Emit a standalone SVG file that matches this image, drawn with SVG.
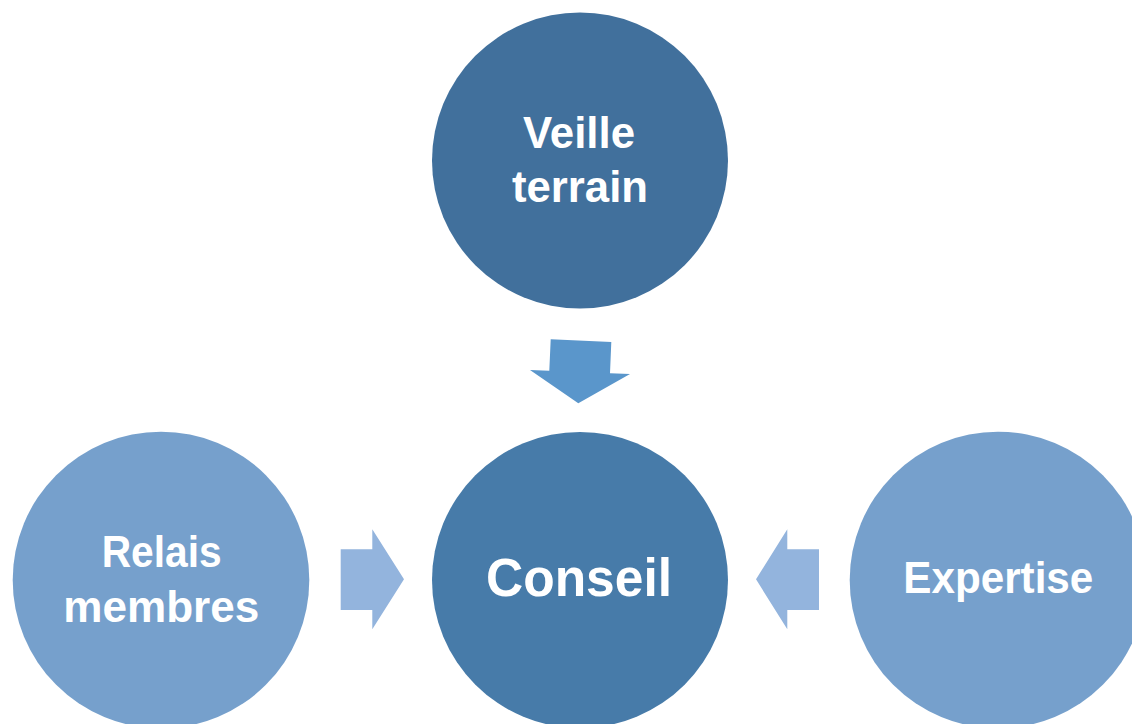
<svg xmlns="http://www.w3.org/2000/svg" width="1132" height="724" viewBox="0 0 1132 724">
<style>
  .lbl { font-family: "Liberation Sans", Arial, sans-serif; font-weight: bold; fill: #ffffff; text-anchor: middle; }
  .dark { fill: #41709c; }
  .mid { fill: #477ba9; }
  .light { fill: #76a0cc; }
  .arr-top { fill: #5a96cb; }
  .arr-side { fill: #93b4dd; }
</style>
<rect width="1132" height="724" fill="#ffffff"/>
<g id="connectors">
  <polygon class="arr-top" points="550.7,339.3 611.3,342 610,373.3 630,374 578.3,403.3 530,370 549.3,370.7"/>
  <polygon class="arr-side" points="340.7,549.3 372.3,549.3 372.3,529.3 404,579.3 372.3,629.3 372.3,610 340.7,610"/>
  <polygon class="arr-side" points="819,549.3 787.3,549.3 787.3,529.3 756,579.3 787.3,629.3 787.3,610 819,610"/>
</g>
<g id="veille">
  <circle class="dark" cx="580" cy="160.5" r="148"/>
  <text class="lbl" x="579" y="148" font-size="44" textLength="112" lengthAdjust="spacingAndGlyphs">Veille</text>
  <text class="lbl" x="580" y="202" font-size="44" textLength="136" lengthAdjust="spacingAndGlyphs">terrain</text>
</g>
<g id="conseil">
  <circle class="mid" cx="580" cy="580" r="148"/>
  <text class="lbl" x="579" y="596" font-size="54" textLength="186" lengthAdjust="spacingAndGlyphs">Conseil</text>
</g>
<g id="relais">
  <circle class="light" cx="161" cy="580" r="148.3"/>
  <text class="lbl" x="161.7" y="567" font-size="44" textLength="120" lengthAdjust="spacingAndGlyphs">Relais</text>
  <text class="lbl" x="161.3" y="622" font-size="44" textLength="196" lengthAdjust="spacingAndGlyphs">membres</text>
</g>
<g id="expertise">
  <circle class="light" cx="998" cy="580" r="148.3"/>
  <text class="lbl" x="998.3" y="593" font-size="44" textLength="190" lengthAdjust="spacingAndGlyphs">Expertise</text>
</g>
</svg>
